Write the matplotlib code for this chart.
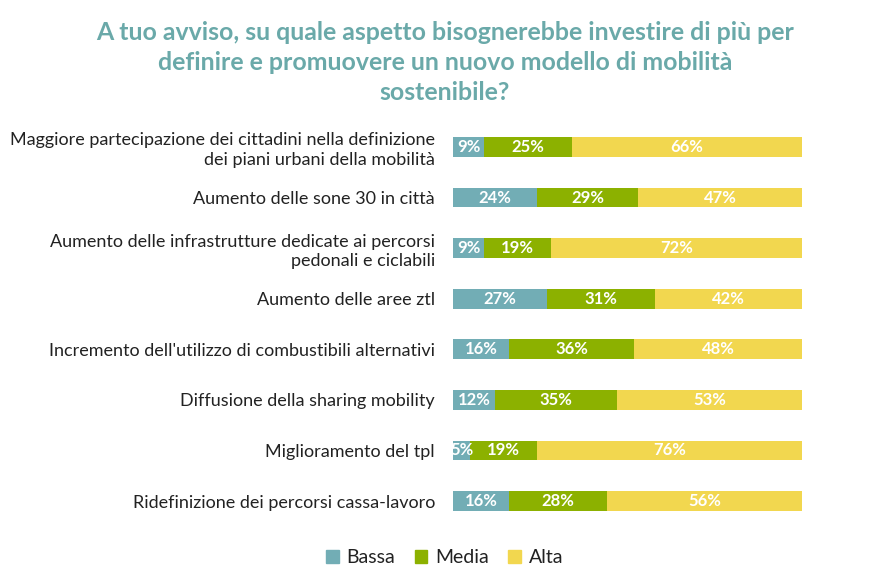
import matplotlib
matplotlib.use("Agg")
import matplotlib.pyplot as plt
from matplotlib.patches import Patch

plt.rcParams['font.family'] = ['Lato', 'DejaVu Sans']

categories = [
    "Maggiore partecipazione dei cittadini nella definizione\ndei piani urbani della mobilità",
    "Aumento delle sone 30 in città",
    "Aumento delle infrastrutture dedicate ai percorsi\npedonali e ciclabili",
    "Aumento delle aree ztl",
    "Incremento dell'utilizzo di combustibili alternativi",
    "Diffusione della sharing mobility",
    "Miglioramento del tpl",
    "Ridefinizione dei percorsi cassa-lavoro",
]
bassa = [9, 24, 9, 27, 16, 12, 5, 16]
media = [25, 29, 19, 31, 36, 35, 19, 28]
alta = [66, 47, 72, 42, 48, 53, 76, 56]
series_names = ["Bassa", "Media", "Alta"]
colors = ["#72adb5", "#8cb100", "#f2d74f"]
title = "A tuo avviso, su quale aspetto bisognerebbe investire di più per\ndefinire e promuovere un nuovo modello di mobilità\nsostenibile?"

fig = plt.figure(figsize=(8.86, 5.82), dpi=100)
ax = fig.add_axes([0.5113, 0.0957, 0.3939, 0.6953])

ypos = list(range(len(categories)))
left = [0] * len(categories)
for vals, name, col in zip([bassa, media, alta], series_names, colors):
    ax.barh(ypos, vals, left=left, height=0.39, color=col, label=name)
    for y, v, l in zip(ypos, vals, left):
        ax.text(l + v / 2, y, f"{v}%", ha="center", va="center",
                color="white", fontsize=12, fontweight="bold")
    left = [a + b for a, b in zip(left, vals)]

ax.set_xlim(0, 100)
ax.set_ylim(len(categories) - 0.5, -0.5)
ax.set_yticks(ypos)
ax.set_yticklabels(categories, fontsize=13, color="#222222", linespacing=1.25)
ax.tick_params(axis="y", length=0, pad=13)
ax.set_xticks([])
for s in ax.spines.values():
    s.set_visible(False)

fig.text(0.502, 0.964, title, ha="center", va="top", fontsize=17.9,
         fontweight="bold", color="#6aa9a9", linespacing=1.38)

handles = [Patch(color=c, label=n) for c, n in zip(colors, series_names)]
fig.legend(handles=handles, loc="center", bbox_to_anchor=(0.502, 0.042), ncol=3,
           frameon=False, fontsize=14, handlelength=0.65, handleheight=0.65,
           handletextpad=0.4, columnspacing=1.0, labelcolor="#222222")

fig.savefig("out.png", dpi=100)
